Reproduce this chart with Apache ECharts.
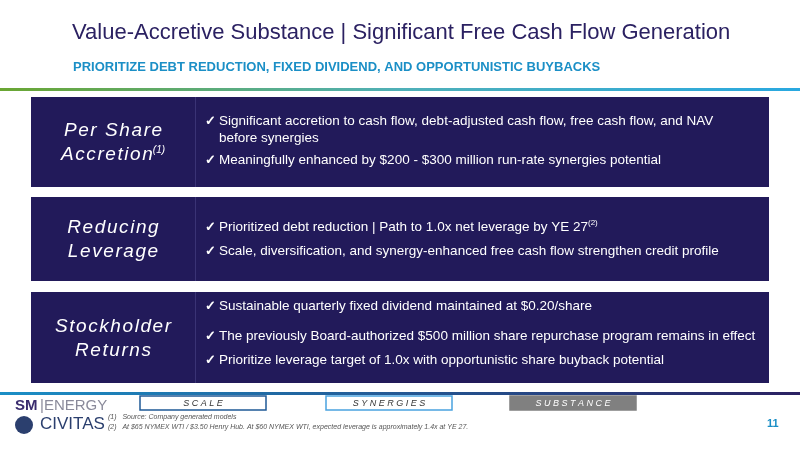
<!DOCTYPE html>
<html><head><meta charset="utf-8">
<script src="https://cdn.jsdelivr.net/npm/echarts@6/dist/echarts.min.js"></script>
<style>html,body{margin:0;padding:0;background:#fff}#c{width:800px;height:450px}</style>
</head><body><div id="c"></div>
<script>
const title = "Value-Accretive Substance | Significant Free Cash Flow Generation";
const subtitle = "PRIORITIZE DEBT REDUCTION, FIXED DIVIDEND, AND OPPORTUNISTIC BUYBACKS";
const headings = [["Per Share", "Accretion", "(1)"], ["Reducing", "Leverage", ""], ["Stockholder", "Returns", ""]];
const bullets = [
  [["Significant accretion to cash flow, debt-adjusted cash flow, free cash flow, and NAV\nbefore synergies", ""], ["Meaningfully enhanced by $200 - $300 million run-rate synergies potential", ""]],
  [["Prioritized debt reduction | Path to 1.0x net leverage by YE 27", "(2)"], ["Scale, diversification, and synergy-enhanced free cash flow strengthen credit profile", ""]],
  [["Sustainable quarterly fixed dividend maintained at $0.20/share", ""], ["The previously Board-authorized $500 million share repurchase program remains in effect", ""], ["Prioritize leverage target of 1.0x with opportunistic share buyback potential", ""]]
];
const tabs = ["SCALE", "SYNERGIES", "SUBSTANCE"];
const footnotes = ["(1)   Source: Company generated models", "(2)   At $65 NYMEX WTI / $3.50 Henry Hub. At $60 NYMEX WTI, expected leverage is approximately 1.4x at YE 27."];
const pageNum = "11";

const boxes = [[97, 90], [197, 84], [292, 91]];
const bulletY = [[121, 160], [227, 251], [306, 336, 360]];
const g = [];
const F = "'Liberation Sans', Arial, sans-serif";
const sp = s => s.split('').join('\u200A');
g.push({type:'text', left:72, top:22, style:{text:title, fill:'#2b2162', font:"22px "+F}});
g.push({type:'text', left:73, top:61, style:{text:subtitle, fill:'#1b8fc6', font:"bold 13px "+F}});
g.push({type:'rect', shape:{x:0,y:88,width:800,height:3}, style:{fill:new echarts.graphic.LinearGradient(0,0,1,0,[{offset:0,color:'#6aa632'},{offset:0.5,color:'#4fb0b8'},{offset:1,color:'#29a8e0'}])}});
boxes.forEach((b,i)=>{
  g.push({type:'rect', shape:{x:31,y:b[0],width:738,height:b[1]}, style:{fill:'#221a5a'}});
  g.push({type:'rect', shape:{x:195,y:b[0],width:1,height:b[1]}, style:{fill:'#3a3375'}});
  const cy = b[0]+b[1]/2;
  g.push({type:'text', x:113, y:cy-11, style:{text:sp(headings[i][0]), fill:'#fff', font:"italic 19px "+F, align:'center', verticalAlign:'middle'}});
  g.push({type:'text', x:113, y:cy+13, style:{text:'{a|'+sp(headings[i][1])+'}'+(headings[i][2]?'{s|'+headings[i][2]+'}':''), align:'center', verticalAlign:'middle',
    rich:{a:{fill:'#fff', font:"italic 19px "+F}, s:{fill:'#fff', font:"italic 10px "+F, verticalAlign:'top', padding:[0,0,10,0]}}}});
  bullets[i].forEach((t,j)=>{
    const multi = t[0].includes('\n');
    g.push({type:'text', x:205, y:bulletY[i][j], style:{text:'✓', fill:'#fff', font:"bold 13px "+F, verticalAlign:'middle'}});
    g.push({type:'text', x:219, y:multi?bulletY[i][j]-8:bulletY[i][j], style:{text:'{a|'+t[0]+'}'+(t[1]?'{s|'+t[1]+'}':''), verticalAlign:multi?'top':'middle', lineHeight:17,
      rich:{a:{fill:'#fff', font:"13.5px "+F, lineHeight:17}, s:{fill:'#fff', font:"8px "+F, padding:[0,0,8,0]}}}});
  });
});
g.push({type:'rect', shape:{x:0,y:392,width:800,height:3}, style:{fill:new echarts.graphic.LinearGradient(0,0,1,0,[{offset:0,color:'#1b8fc6'},{offset:1,color:'#2b2162'}])}});
const tabX = [140, 326, 510];
const tabStyle = [{fill:'#fff',stroke:'#1f5a96',c:'#333'},{fill:'#fff',stroke:'#4aa3e0',c:'#333'},{fill:'#808080',stroke:'#808080',c:'#fff'}];
tabs.forEach((t,i)=>{
  g.push({type:'rect', shape:{x:tabX[i],y:396,width:126,height:14}, style:{fill:tabStyle[i].fill, stroke:tabStyle[i].stroke, lineWidth:1.5}});
  g.push({type:'text', x:tabX[i]+63, y:403, style:{text:t.split('').join(' '), fill:tabStyle[i].c, font:"italic 9px "+F, align:'center', verticalAlign:'middle'}});
});
g.push({type:'text', left:15, top:398, style:{text:'SM', fill:'#3a2c6e', font:"bold 15px "+F}});
g.push({type:'text', left:40, top:398, style:{text:'|ENERGY', fill:'#8a8a9a', font:"15px "+F}});
g.push({type:'circle', shape:{cx:24,cy:425,r:9}, style:{fill:'#2b3f6e'}});
g.push({type:'text', left:40, top:416, style:{text:'CIVITAS', fill:'#2b3f6e', font:"17px "+F}});
footnotes.forEach((t,i)=>g.push({type:'text', left:108, top:414+i*10, style:{text:t, fill:'#555', font:"italic 7px "+F}}));
g.push({type:'text', left:767, top:418, style:{text:pageNum, fill:'#1b8fc6', font:"bold 11px "+F}});
const chart = echarts.init(document.getElementById('c'));
chart.setOption({animation:false, graphic:g});
</script></body></html>
